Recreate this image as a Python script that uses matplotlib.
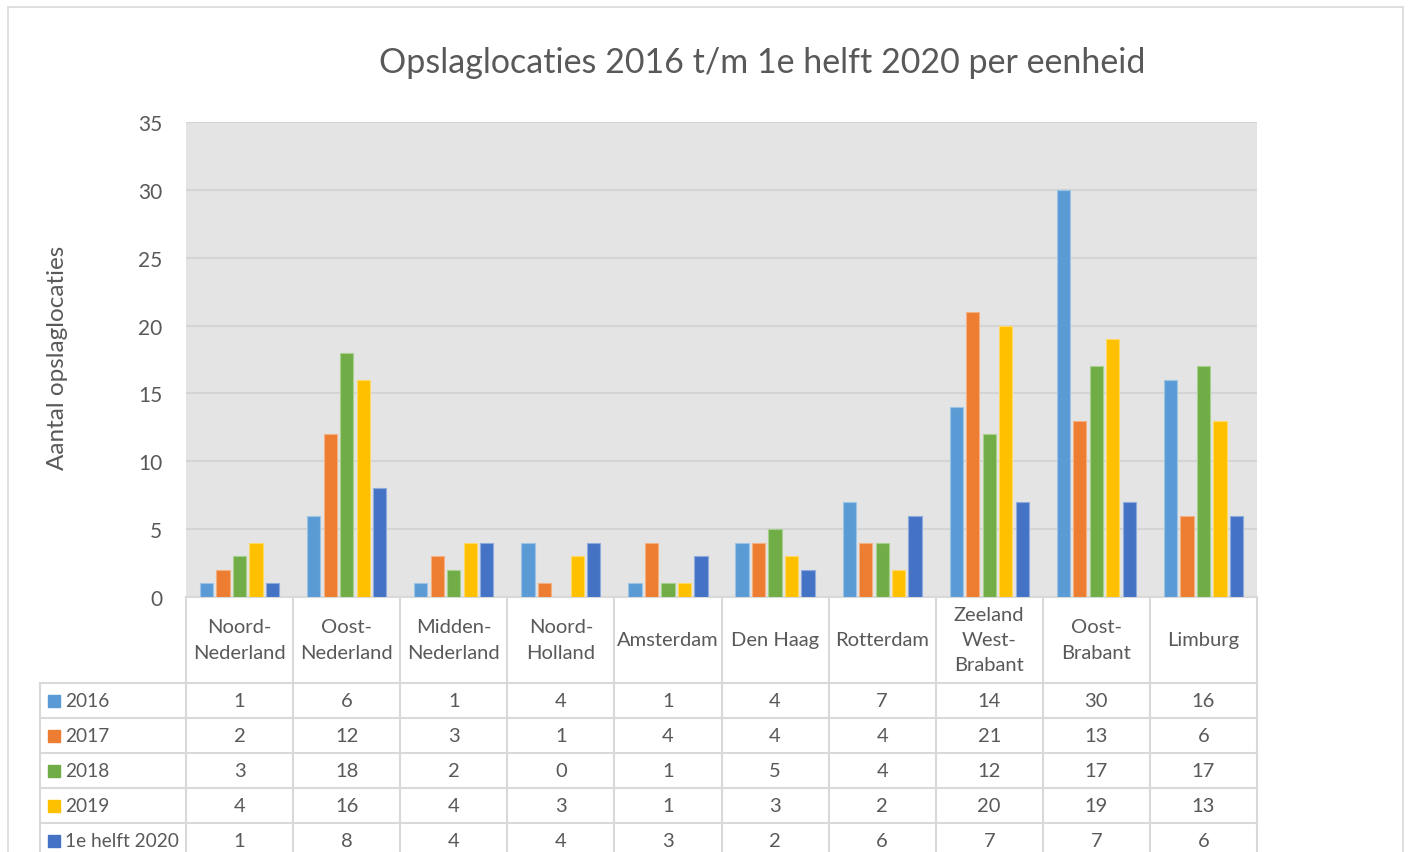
import matplotlib
matplotlib.use("Agg")
import matplotlib.pyplot as plt
import matplotlib.transforms as mtransforms
from matplotlib.lines import Line2D
from matplotlib.patches import Rectangle
import numpy as np

plt.rcParams['font.family'] = ['Lato', 'DejaVu Sans']

categories = ["Noord-\nNederland", "Oost-\nNederland", "Midden-\nNederland", "Noord-\nHolland",
              "Amsterdam", "Den Haag", "Rotterdam", "Zeeland\nWest-\nBrabant", "Oost-\nBrabant", "Limburg"]
series_names = ["2016", "2017", "2018", "2019", "1e helft 2020"]
v2016 = [1, 6, 1, 4, 1, 4, 7, 14, 30, 16]
v2017 = [2, 12, 3, 1, 4, 4, 4, 21, 13, 6]
v2018 = [3, 18, 2, 0, 1, 5, 4, 12, 17, 17]
v2019 = [4, 16, 4, 3, 1, 3, 2, 20, 19, 13]
v2020 = [1, 8, 4, 4, 3, 2, 6, 7, 7, 6]
series_values = [v2016, v2017, v2018, v2019, v2020]
colors = ["#5B9BD5", "#ED7D31", "#70AD47", "#FFC000", "#4472C4"]
edge_colors = ["#9DC3E6", "#F4B183", "#A9D18E", "#FFD966", "#8FAADC"]
yticks = [0, 5, 10, 15, 20, 25, 30, 35]

TXT = "#595959"
GRID = "#D9D9D9"

W, H = 1408, 853
fig = plt.figure(figsize=(W / 100, H / 100), dpi=100)
fig.patch.set_facecolor("white")

def fx(px):
    return px / W

def fy(py):
    return 1 - py / H

# outer chart border
fig.add_artist(Rectangle((fx(8), fy(900)), fx(1403) - fx(8), fy(8) - fy(900),
                         transform=fig.transFigure, fill=False, edgecolor=GRID, lw=1.2))

ax_l, ax_r, ax_t, ax_b = 186, 1257, 123, 598
ax = fig.add_axes([fx(ax_l), fy(ax_b), (ax_r - ax_l) / W, (ax_b - ax_t) / H])
ax.set_facecolor("#E4E4E4")

n = len(categories)
x = np.arange(n)
pitch = 0.154
width = 0.124
for j, (name, vals) in enumerate(zip(series_names, series_values)):
    ax.bar(x + (j - 2) * pitch, vals, width=width, color=colors[j],
           edgecolor=edge_colors[j], linewidth=0.8, zorder=3, label=name)

ax.set_xlim(-0.5, n - 0.5)
ax.set_ylim(0, 35)
ax.set_yticks(yticks)
ax.set_yticklabels([str(t) for t in yticks], fontsize=15, color=TXT)
ax.set_xticks([])
ax.tick_params(axis='y', length=0, pad=17)
ax.grid(axis='y', color="#D4D4D4", lw=1.5, zorder=0)
ax.set_axisbelow(True)
for s in ax.spines.values():
    s.set_visible(False)

fig.text(fx(762), fy(63), "Opslaglocaties 2016 t/m 1e helft 2020 per eenheid",
         ha="center", va="center", fontsize=24.5, color=TXT)
fig.text(fx(57), fy(358), "Aantal opslaglocaties", rotation=90, ha="center",
         va="center", fontsize=17.5, color=TXT)

# data table under the axis
ph = ax_b - ax_t
header_h = 86
row_h = 35
blend = mtransforms.blended_transform_factory(ax.transData, ax.transAxes)
bottom_axes = -(H - ax_b + 10) / ph
left_col = (40 - ax_l) / (ax_r - ax_l)

def ay(py_off):
    return -py_off / ph

line_kw = dict(color=GRID, lw=1.5, clip_on=False)
for b in np.arange(n + 1) - 0.5:
    ax.add_line(Line2D([b, b], [0, bottom_axes], transform=blend, **line_kw))
ax.add_line(Line2D([left_col, left_col], [ay(header_h), bottom_axes], transform=ax.transAxes, **line_kw))
ax.add_line(Line2D([0, 1], [0, 0], transform=ax.transAxes, **line_kw))
for k in range(len(series_names)):
    yy = ay(header_h + k * row_h)
    ax.add_line(Line2D([left_col, 1], [yy, yy], transform=ax.transAxes, **line_kw))

for i, c in enumerate(categories):
    ax.text(i, ay(header_h / 2 - 0.5), c, transform=blend, ha="center", va="center",
            fontsize=14.5, color=TXT, linespacing=1.6, clip_on=False)

for k, (name, vals) in enumerate(zip(series_names, series_values)):
    yc = ay(header_h + k * row_h + row_h / 2)
    sq = 12
    ax.add_patch(Rectangle(((48 - ax_l) / (ax_r - ax_l), yc - sq / 2 / ph), sq / (ax_r - ax_l), sq / ph,
                           transform=ax.transAxes, color=colors[k], clip_on=False))
    ax.text((65 - ax_l) / (ax_r - ax_l), yc, name, transform=ax.transAxes, ha="left",
            va="center", fontsize=13.8, color=TXT, clip_on=False)
    for i, v in enumerate(vals):
        ax.text(i, yc, str(v), transform=blend, ha="center", va="center",
                fontsize=14.5, color=TXT, clip_on=False)

fig.savefig("out.png", dpi=100, facecolor="white")
